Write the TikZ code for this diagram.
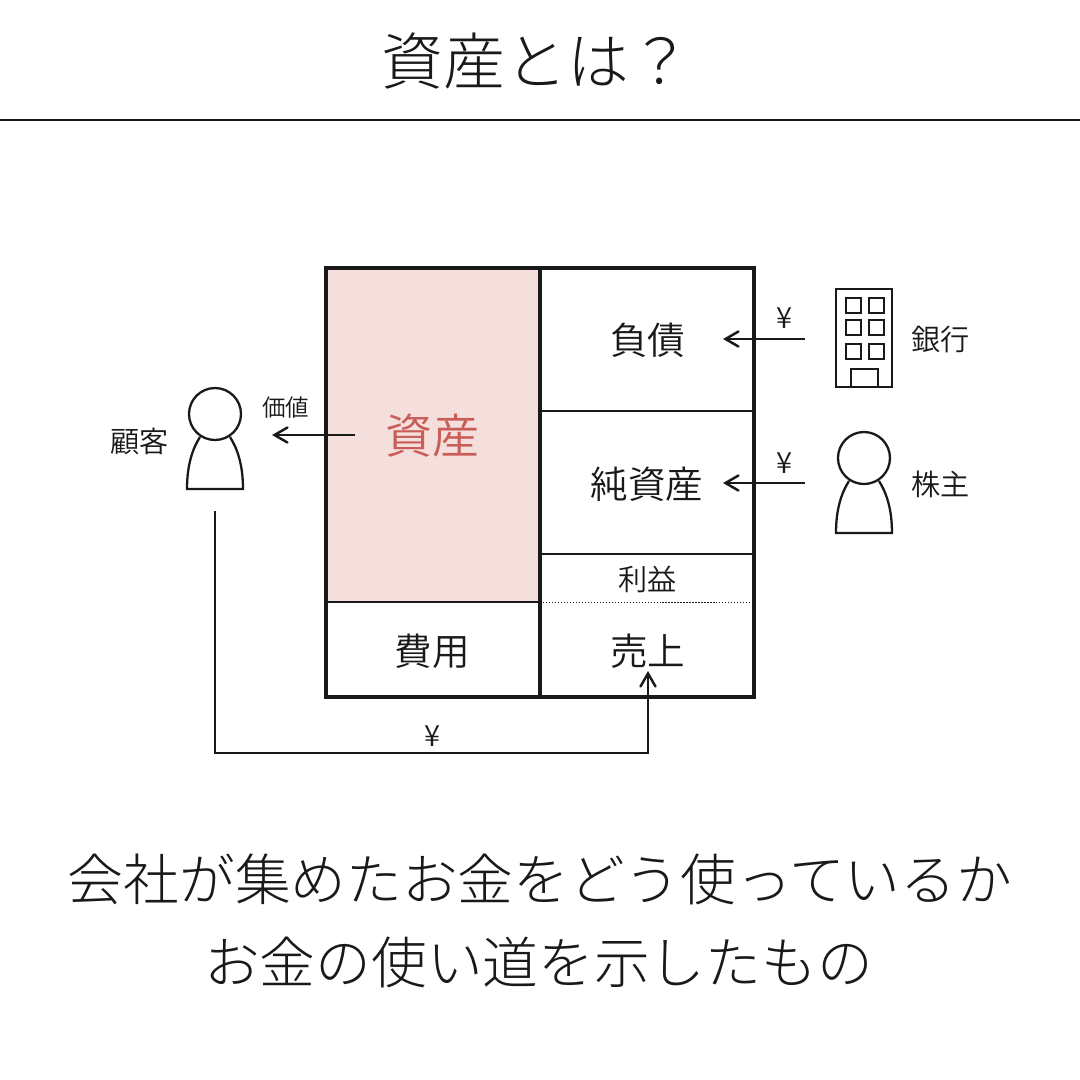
\documentclass[tikz,border=0pt]{standalone}
\usepackage{fontspec}
\usetikzlibrary{arrows}
\newfontfamily\jpfont{Noto Sans CJK JP DemiLight}
\newfontfamily\jplight{Noto Sans CJK JP Light}
\definecolor{inkk}{rgb}{0.1,0.1,0.1}
\definecolor{shisanbg}{rgb}{0.96,0.875,0.865}
\definecolor{shisanfg}{rgb}{0.79,0.37,0.35}
\tikzset{
  midtext/.style={font=\jpfont\fontsize{10.7}{12}\selectfont,text=inkk,inner sep=0pt},
  smalltext/.style={font=\jpfont\fontsize{8.3}{10}\selectfont,text=inkk,inner sep=0pt},
  tinytext/.style={font=\jpfont\fontsize{6.7}{8}\selectfont,text=inkk,inner sep=0pt},
  bigtext/.style={font=\jplight\fontsize{15.85}{18}\selectfont,text=inkk,inner sep=0pt},
  frameline/.style={line width=0.9pt,color=inkk},
  thinline/.style={line width=0.35pt,color=inkk},
  iconline/.style={line width=0.65pt,color=inkk},
  flowline/.style={line width=0.7pt,color=inkk,->},
}
\newcommand{\person}[2]{% head centre
  \draw [iconline] (#1-15,#2+23) .. controls (#1-22,#2+34) and (#1-28,#2+50) .. (#1-28,#2+75) -- (#1+28,#2+75) .. controls (#1+28,#2+50) and (#1+22,#2+34) .. (#1+15,#2+23);
  \draw [iconline] (#1,#2) circle (26);
}
\begin{document}
\begin{tikzpicture}[line cap=butt,line join=miter,>=angle 60,x=0.1mm,y=-0.1mm]
\useasboundingbox (0,0) rectangle (1080,1080);
% title
\node [font=\jplight\fontsize{17.6}{20}\selectfont,text=inkk,inner sep=0pt,anchor=west] (title) at (381,61) {資産とは？};
\draw [line width=0.55pt,color=inkk] (0,120) -- (1080,120);
% table
\fill [shisanbg] (326,268) rectangle (540,602);
\draw [thinline] (540,411) -- (754,411);
\draw [thinline] (540,554) -- (754,554);
\draw [line width=0.5pt,color=inkk,dash pattern=on 0.35pt off 0.5pt] (543,602.5) -- (751,602.5);
\draw [thinline] (326,602) -- (540,602);
\draw [frameline] (326,268) rectangle (754,697);
\draw [frameline] (540,268) -- (540,697);
\node [font=\jpfont\fontsize{13.4}{16}\selectfont,text=shisanfg,inner sep=0pt] (shisan) at (432.5,436) {資産};
\node [midtext] (fusai) at (648,340) {負債};
\node [midtext] (junshisan) at (647,484) {純資産};
\node [smalltext] (rieki) at (647.5,579) {利益};
\node [midtext] (hiyou) at (432.5,651) {費用};
\node [midtext] (uriage) at (648,651) {売上};
% people and bank
\person{215}{414}
\person{864}{458}
\node [smalltext] (kokyaku) at (139.5,441) {顧客};
\node [tinytext] (kachi) at (286,408) {価値};
\node [smalltext] (ginkou) at (940.5,339) {銀行};
\node [smalltext] (kabunushi) at (940.5,484) {株主};
\draw [iconline] (836,289) rectangle (892,387);
\foreach \y in {298,320,344} {
  \draw [iconline] (846,\y) rectangle +(15,15);
  \draw [iconline] (869,\y) rectangle +(15,15);
}
\draw [iconline] (851,387) -- (851,369) -- (878,369) -- (878,387);
% flows
\coordinate (fromshisan) at (355,435);
\coordinate (tokokyaku) at (272,435);
\coordinate (frombank) at (805,339);
\coordinate (tofusai) at (723,339);
\coordinate (fromholder) at (805,483);
\coordinate (tojun) at (723,483);
\coordinate (fromkokyaku) at (215,511);
\coordinate (touriage) at (648,671);
\draw [flowline] (fromshisan) -- (tokokyaku);
\draw [flowline] (frombank) -- (tofusai);
\draw [flowline] (fromholder) -- (tojun);
\draw [flowline] (fromkokyaku) -- (215,753) -- (648,753) -- (touriage);
\node [smalltext] (yena) at (784.5,318) {¥};
\node [smalltext] (yenb) at (784.5,463) {¥};
\node [smalltext] (yenc) at (432.5,736) {¥};
% message
\node [bigtext] (linea) at (540,879) {会社が集めたお金をどう使っているか};
\node [bigtext] (lineb) at (538.5,962) {お金の使い道を示したもの};
\end{tikzpicture}
\end{document}
